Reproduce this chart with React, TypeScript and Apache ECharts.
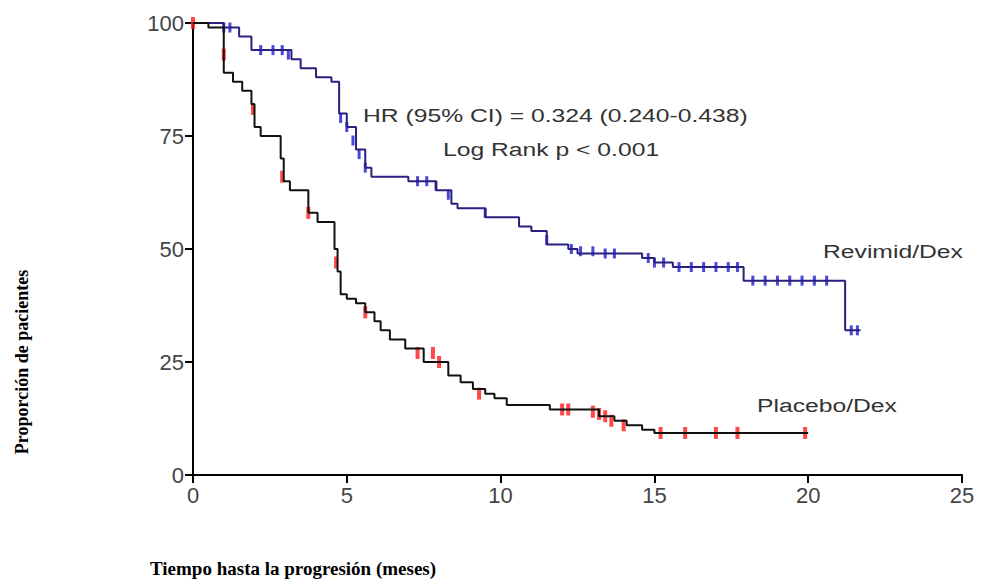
import { useEffect, useRef } from "react";
import * as echarts from "echarts";

// Kaplan-Meier step points [month, % after event]
const revimidCurve: number[][] = [
  [0, 100], [1.0, 99], [1.5, 97], [1.9, 94], [3.2, 92], [3.5, 90], [4.0, 88], [4.5, 87],
  [4.75, 80], [5.0, 77], [5.3, 72], [5.6, 68], [5.8, 66], [7.0, 65], [7.9, 63], [8.4, 60],
  [8.6, 59], [9.5, 57], [10.6, 55], [11.0, 54], [11.5, 51], [12.2, 50], [12.5, 49],
  [14.6, 48], [15.0, 47], [15.6, 46], [17.9, 43], [21.2, 32], [21.7, 32],
];
const placeboCurve: number[][] = [
  [0, 100], [0.5, 99], [1.0, 89], [1.3, 87], [1.6, 85], [1.9, 82], [2.0, 77], [2.2, 75],
  [2.85, 70], [2.95, 65], [3.15, 63], [3.75, 58], [4.05, 56], [4.6, 50], [4.7, 45],
  [4.8, 40], [5.0, 39], [5.3, 38], [5.6, 36], [5.9, 34], [6.1, 32], [6.4, 30], [6.9, 28],
  [7.5, 25], [8.3, 22], [8.7, 20.5], [9.1, 19], [9.5, 18], [9.8, 17], [10.2, 15.5],
  [11.6, 14.5], [13.2, 13], [13.7, 12], [14.1, 11], [14.6, 10], [15.0, 9.3], [20.0, 9.3],
];
const revimidCensored: number[][] = [
  [1.0, 99], [1.2, 99], [2.2, 94], [2.6, 94], [2.9, 94], [3.1, 93], [4.8, 79], [5.0, 77],
  [5.2, 74], [5.4, 71], [5.6, 68], [7.3, 65], [7.6, 65], [7.9, 64], [8.3, 62], [9.5, 58],
  [11.5, 52], [12.3, 50], [12.6, 49.5], [13.0, 49.5], [13.4, 49], [13.7, 49], [14.8, 48],
  [15.0, 47], [15.3, 47], [15.8, 46], [16.2, 46], [16.6, 46], [17.0, 46], [17.4, 46],
  [17.7, 46], [18.2, 43], [18.6, 43], [19.0, 43], [19.4, 43], [19.8, 43], [20.2, 43],
  [20.6, 43], [21.4, 32], [21.6, 32],
];
const placeboCensored: number[][] = [
  [0, 100], [1.0, 93], [1.95, 81], [2.9, 66], [3.75, 58], [4.65, 47], [5.6, 36],
  [7.3, 27], [7.8, 27], [8.0, 25], [9.3, 18], [12.0, 14.5], [12.2, 14.5], [13.0, 14],
  [13.2, 13.5], [13.4, 13], [13.6, 12], [14.0, 11], [15.2, 9.3], [16.0, 9.3], [17.0, 9.3],
  [17.7, 9.3], [19.9, 9.3],
];

const labelFont = "Liberation Sans, Arial, sans-serif";
const titleFont = "Liberation Serif, Times New Roman, serif";
const noteStyle = { fontSize: 19, fontFamily: labelFont, fill: "#333" };

export default function App() {
  const chartRef = useRef<HTMLDivElement>(null);

  useEffect(() => {
    if (!chartRef.current) return;
    const chart = echarts.init(chartRef.current, undefined, { renderer: "svg" });
    const axisCommon = {
      axisLine: { show: true, onZero: false, lineStyle: { color: "#000", width: 2 } },
      axisTick: { show: true, length: 8, lineStyle: { color: "#000", width: 2 } },
      axisLabel: { color: "#444", fontSize: 22, fontFamily: labelFont, margin: 9 },
      splitLine: { show: false },
    };
    chart.setOption({
      animation: false,
      backgroundColor: "#fff",
      grid: { left: 193, right: 27, top: 23, bottom: 113 },
      xAxis: { type: "value", min: 0, max: 25, interval: 5, ...axisCommon },
      yAxis: { type: "value", min: 0, max: 100, interval: 25, ...axisCommon },
      series: [
        {
          type: "line", step: "end", data: revimidCurve, showSymbol: false,
          lineStyle: { color: "#2b1f80", width: 2 },
        },
        {
          type: "line", step: "end", data: placeboCurve, showSymbol: false,
          lineStyle: { color: "#111", width: 2 },
        },
        {
          type: "scatter", data: revimidCensored, symbol: "rect", symbolSize: [3, 10],
          itemStyle: { color: "#1a1ad0" },
        },
        {
          type: "scatter", data: placeboCensored, symbol: "rect", symbolSize: [4, 12],
          itemStyle: { color: "#ff1a1a" },
        },
      ],
      graphic: [
        { type: "text", x: 363, y: 106, scaleX: 1.3, style: { text: "HR (95% CI) = 0.324 (0.240-0.438)", ...noteStyle } },
        { type: "text", x: 443, y: 140, scaleX: 1.3, style: { text: "Log Rank p < 0.001", ...noteStyle } },
        { type: "text", x: 823, y: 242, scaleX: 1.3, style: { text: "Revimid/Dex", ...noteStyle } },
        { type: "text", x: 757, y: 396, scaleX: 1.3, style: { text: "Placebo/Dex", ...noteStyle } },
        {
          type: "text", x: 22, y: 362, rotation: Math.PI / 2,
          style: { text: "Proporción de pacientes", fontSize: 18, fontWeight: "bold", fontFamily: titleFont, fill: "#000", align: "center", verticalAlign: "middle" },
        },
        {
          type: "text", left: 150, top: 559,
          style: { text: "Tiempo hasta la progresión (meses)", fontSize: 19, fontWeight: "bold", fontFamily: titleFont, fill: "#000" },
        },
      ],
    });
    return () => chart.dispose();
  }, []);

  return <div ref={chartRef} style={{ width: 989, height: 588, margin: -8 }} />;
}
